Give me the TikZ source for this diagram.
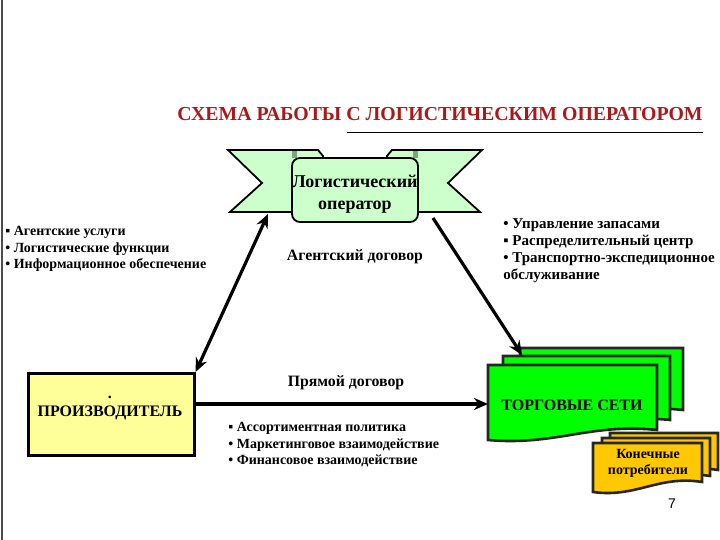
\documentclass[tikz,border=0pt]{standalone}
\usepackage{fontspec}
\setmainfont{Liberation Serif}
\newfontfamily\pagefont{Liberation Sans}
\usetikzlibrary{arrows.meta,positioning,calc}

\definecolor{titlered}{RGB}{170,25,25}
\definecolor{ribbongreen}{RGB}{204,255,204}
\definecolor{ribbondark}{RGB}{120,170,120}
\definecolor{prodyellow}{RGB}{255,255,153}
\definecolor{tradegreen}{RGB}{0,255,0}
\definecolor{consgold}{RGB}{255,200,0}

\tikzset{
  bigarrow/.style={line width=1.6pt, -{Stealth[length=7pt,width=6pt]}},
  twoarrow/.style={line width=1.6pt, {Stealth[length=7pt,width=6pt]}-{Stealth[length=7pt,width=6pt]}},
  ribbon/.style={draw=black, line width=0.9pt, fill=ribbongreen},
  docline/.style={draw=black!85, line width=1.3pt},
  listtext/.style={anchor=north west, align=left, inner sep=0pt,
    font=\bfseries\fontsize{7}{8.3}\selectfont},
  midtext/.style={inner sep=0pt, font=\bfseries\fontsize{7.9}{9.5}\selectfont}
}

% one page of a stacked document shape: x1, y1, x2, y2 (bottom left), fill
\newcommand{\docpage}[5]{%
  \draw[docline, fill=#5] (#1,#2) -- (#3,#2) -- (#3,{#4-10})
    .. controls ({#1+0.6*(#3-#1)},{#4-17}) and ({#1+0.4*(#3-#1)},{#4+6}) .. (#1,#4) -- cycle;
}

\begin{document}
\begin{tikzpicture}[x=0.5pt, y=-0.5pt]
    \useasboundingbox (0,0) rectangle (720,540);
    \draw[black!70, line width=0.6pt] (2,0) -- (2,540);

    % Title
    \node[text=titlered, font=\bfseries\fontsize{9.9}{11}\selectfont] (title) at (440,114)
        {СХЕМА РАБОТЫ С ЛОГИСТИЧЕСКИМ ОПЕРАТОРОМ};
    \draw[line width=0.5pt] (347,133) -- (703,133);

    % Ribbon with operator
    \draw[ribbon] (228,150) -- (318,150) -- (323,156) -- (323,212) -- (230,212) -- (262,183) -- cycle;
    \draw[ribbon] (482,150) -- (392,150) -- (387,156) -- (387,212) -- (480,212) -- (448,183) -- cycle;
    \fill[ribbondark] (292,151) rectangle (297,158);
    \fill[ribbondark] (413,151) rectangle (418,158);
    \draw[ribbon, rounded corners=4] (292,158) rectangle (418,222);
    \node[font=\bfseries\fontsize{9}{11}\selectfont, align=center, inner sep=0pt] (oper) at (355,194)
        {Логистический\\оператор};
    \coordinate (operSW) at (268,214);
    \coordinate (operSE) at (433,218);

    % Side lists
    \node[listtext] (leftlist) at (5,226) {▪ Агентские услуги\\• Логистические функции\\• Информационное обеспечение};
    \node[listtext, font=\bfseries\fontsize{7.5}{8.5}\selectfont] (rightlist) at (503,218)
        {• Управление запасами\\▪ Распределительный центр\\• Транспортно-экспедиционное\\обслуживание};
    \node[listtext] (bottomlist) at (228,422) {▪ Ассортиментная политика\\• Маркетинговое взаимодействие\\• Финансовое взаимодействие};

    % Contracts
    \node[midtext] (agent) at (355,257) {Агентский договор};
    \node[midtext] (direct) at (346,383) {Прямой договор};

    % Producer
    \node[draw=black, line width=1.3pt, fill=prodyellow, minimum width=83pt, minimum height=41pt,
        anchor=north west, inner sep=0pt] (prod) at (27,372) {};
    \node[font=\bfseries\fontsize{8}{9}\selectfont, align=center, inner sep=0pt] (prodtext) at (110,408)
        {.\\ПРОИЗВОДИТЕЛЬ};

    % Trading networks
    \docpage{520}{348}{683}{420}{tradegreen}
    \docpage{503}{356}{670}{430}{tradegreen}
    \docpage{488}{365}{657}{440}{tradegreen}
    \node[font=\bfseries\fontsize{8}{9}\selectfont, inner sep=0pt] (trade) at (572,405) {ТОРГОВЫЕ СЕТИ};
    \coordinate (tradeW) at (488,404);
    \coordinate (tradeN) at (522,355);

    % Consumers
    \docpage{610}{433}{718}{480}{consgold}
    \docpage{602}{438}{710}{486}{consgold}
    \docpage{593}{443}{702}{492}{consgold}
    \node[font=\bfseries\fontsize{7}{8}\selectfont, align=center, inner sep=0pt] (cons) at (648,463)
        {Конечные\\потребители};

    % Connectors
    \draw[twoarrow] (operSW) -- (prod.north east);
    \draw[bigarrow] (operSE) -- (tradeN);
    \draw[bigarrow] (prod.east |- tradeW) -- (tradeW);

    \node[font=\pagefont\fontsize{7}{8}\selectfont] (pagenum) at (672,504) {7};
\end{tikzpicture}
\end{document}
